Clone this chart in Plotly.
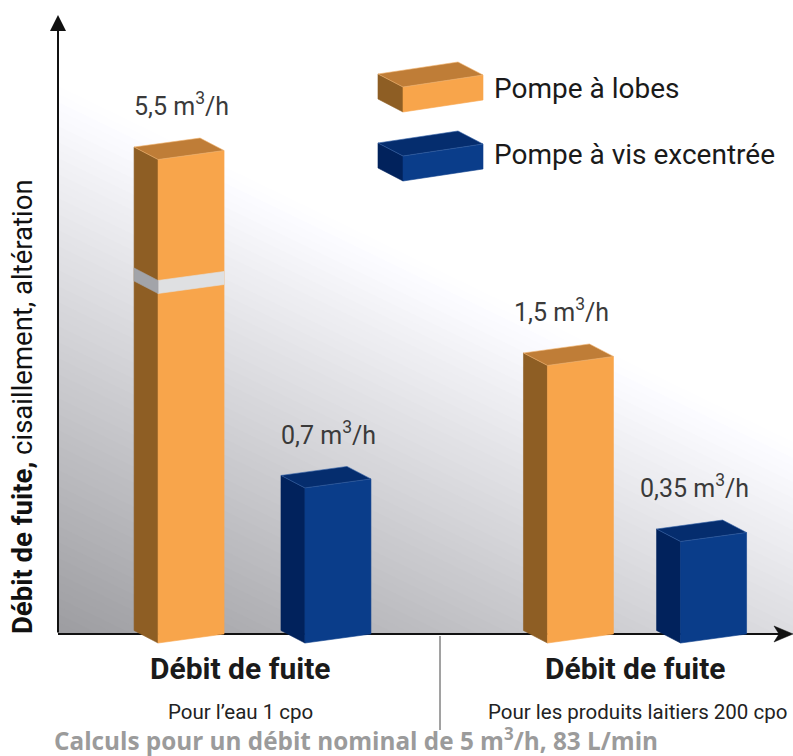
import plotly.graph_objects as go

W, H = 793, 756

# ---------------- data ----------------
categories = ["Débit de fuite", "Débit de fuite"]
category_notes = ["Pour l’eau 1 cpo", "Pour les produits laitiers 200 cpo"]
series_names = ["Pompe à lobes", "Pompe à vis excentrée"]
lobes_values = [5.5, 1.5]
vis_values = [0.7, 0.35]
lobes_labels = ["5,5 m<sup>3</sup>/h", "1,5 m<sup>3</sup>/h"]
vis_labels = ["0,7 m<sup>3</sup>/h", "0,35 m<sup>3</sup>/h"]
y_title = "<b>Débit de fuite,</b> cisaillement, altération"
footnote = "<b>Calculs pour un débit nominal de 5 m<sup>3</sup>/h, 83 L/min</b>"

# ---------------- layout constants ----------------
X_UNIT, X_ORIGIN = 382.5, 264.5      # px per category, px of category 0
Y_UNIT, Y_ORIGIN = 153.1, 586.1      # px per m3/h, px of value 0
HALF_GAP = [0.192, 0.174]
LABEL_SHIFT = [-0.025, -0.05]
BAR_W = 0.1725
DX, DY = -0.0627, 0.0816             # depth of the 3D box
SKEW = 0.0588                        # perspective tilt of the front face
FLOOR = -0.313                       # axis baseline value
BREAK_FROM, BREAK_TO, BAND = 1.97, 4.71, 0.085

PAL = {
    "lobes": dict(front="#F8A54B", side="#8E5E24", top="#BF7D37", edge="#F2B46E"),
    "vis": dict(front="#0A3D8A", side="#01225C", top="#052D6E", edge="#3563A8"),
}
BAND_FRONT, BAND_SIDE = "#DFE0E2", "#A2A4A9"


def disp(v):
    if v <= BREAK_FROM:
        return v
    if v >= BREAK_TO:
        return BREAK_FROM + BAND + (v - BREAK_TO)
    return BREAK_FROM + BAND * (v - BREAK_FROM) / (BREAK_TO - BREAK_FROM)


def pxx(p):  # pixel -> data x (main axes)
    return (p - X_ORIGIN) / X_UNIT


def ppx(x, y):  # pixel -> paper
    return x / W, 1 - y / H


fig = go.Figure()

# ---------------- background gradient (clipped to subplot xy) ----------------
def yline(x):
    return 86 + (x - 58) * (442 - 86) / 735.0

step = 8
d = 0
while d < 600:
    g = max(0, int(round(255 - 0.18 * (d + step / 2))))
    col = f"rgb({g},{g},{min(255, g + 4)})"
    xs = [58, 793, 793, 58, 58]
    ys = [yline(58) + d, yline(793) + d, yline(793) + d + step + 1,
          yline(58) + d + step + 1, yline(58) + d]
    fig.add_trace(go.Scatter(x=xs, y=ys, mode="lines", fill="toself",
                             fillcolor=col, line=dict(width=0),
                             hoverinfo="skip", showlegend=False,
                             xaxis="x", yaxis="y"))
    d += step

# ---------------- x axis line (under bars) ----------------
fig.add_trace(go.Scatter(x=[pxx(58), pxx(784)], y=[FLOOR, FLOOR], mode="lines",
                         line=dict(color="#111111", width=2),
                         hoverinfo="skip", showlegend=False,
                         xaxis="x2", yaxis="y2"))


def add_poly(pts, color, edge):
    xs = [p[0] for p in pts] + [pts[0][0]]
    ys = [p[1] for p in pts] + [pts[0][1]]
    fig.add_trace(go.Scatter(x=xs, y=ys, mode="lines", fill="toself",
                             fillcolor=color, line=dict(color=edge, width=0.6),
                             hoverinfo="skip", showlegend=False,
                             xaxis="x2", yaxis="y2"))


def add_bar(c, v, pal):
    xl, xr = c - BAR_W / 2, c + BAR_W / 2
    T = disp(v)
    side = [(xl, FLOOR - SKEW), (xl, T - SKEW), (xl + DX, T - SKEW + DY), (xl + DX, FLOOR - SKEW + DY)]
    front = [(xl, FLOOR - SKEW), (xr, FLOOR), (xr, T), (xl, T - SKEW)]
    top = [(xl, T - SKEW), (xr, T), (xr + DX, T + DY), (xl + DX, T - SKEW + DY)]
    add_poly(side, pal["side"], pal["side"])
    add_poly(front, pal["front"], pal["front"])
    add_poly(top, pal["top"], pal["edge"])
    if v > BREAK_TO:
        B = BREAK_FROM
        add_poly([(xl, B - SKEW), (xr, B), (xr, B + BAND), (xl, B + BAND - SKEW)], BAND_FRONT, BAND_FRONT)
        add_poly([(xl, B - SKEW), (xl, B + BAND - SKEW), (xl + DX, B + BAND - SKEW + DY),
                  (xl + DX, B - SKEW + DY)], BAND_SIDE, BAND_SIDE)


annotations = []
for i in range(len(categories)):
    for sign, vals, labels, key in ((-1, lobes_values, lobes_labels, "lobes"),
                                    (1, vis_values, vis_labels, "vis")):
        c = i + sign * HALF_GAP[i]
        add_bar(c, vals[i], PAL[key])
        annotations.append(dict(x=c + LABEL_SHIFT[i], y=disp(vals[i]) + 0.30, xref="x2", yref="y2",
                                text=labels[i], showarrow=False, xanchor="center",
                                yanchor="middle",
                                font=dict(family="Roboto", size=25, color="#3a3a3a")))

# ---------------- legend boxes ----------------
shapes = []


def path_px(pts):
    s = ""
    for k, (x, y) in enumerate(pts):
        a, b = ppx(x, y)
        s += ("M" if k == 0 else "L") + f"{a:.5f},{b:.5f} "
    return s + "Z"


def legend_box(xr, yt, pal, w=80, h=25, skew=12, dx=-25, dy=-13):
    tl, tr = (xr - w, yt + skew), (xr, yt)
    br, bl = (xr, yt + h), (xr - w, yt + skew + h)
    side = [bl, tl, (tl[0] + dx, tl[1] + dy), (bl[0] + dx, bl[1] + dy)]
    front = [tl, tr, br, bl]
    top = [tl, tr, (tr[0] + dx, tr[1] + dy), (tl[0] + dx, tl[1] + dy)]
    for pts, col, ln in ((side, pal["side"], pal["side"]), (front, pal["front"], pal["front"]),
                         (top, pal["top"], pal["edge"])):
        shapes.append(dict(type="path", path=path_px(pts), xref="paper", yref="paper",
                           fillcolor=col, line=dict(color=ln, width=0.6), layer="above"))


legend_box(483, 75, PAL["lobes"])
legend_box(483, 144, PAL["vis"])
for name, yy in zip(series_names, [88, 155]):
    a, b = ppx(492, yy)
    annotations.append(dict(x=a, y=b, xref="paper", yref="paper", text=name, showarrow=False,
                            xanchor="left", yanchor="middle",
                            font=dict(family="Roboto", size=28, color="#1a1a1a")))

# ---------------- category labels ----------------
for name, note, cx, nx in zip(categories, category_notes, [240, 635], [240, 637]):
    a, b = ppx(cx, 668)
    annotations.append(dict(x=a, y=b, xref="paper", yref="paper", text=f"<b>{name}</b>",
                            showarrow=False, xanchor="center", yanchor="middle",
                            font=dict(family="Roboto", size=30, color="#1a1a1a")))
    a, b = ppx(nx, 712)
    annotations.append(dict(x=a, y=b, xref="paper", yref="paper", text=note,
                            showarrow=False, xanchor="center", yanchor="middle",
                            font=dict(family="Roboto", size=20.5, color="#222222")))

# divider
a0, b0 = ppx(440, 636)
a1, b1 = ppx(440, 730)
shapes.append(dict(type="line", xref="paper", yref="paper", x0=a0, y0=b0, x1=a1, y1=b1,
                   line=dict(color="#444444", width=1)))

# footnote
a, b = ppx(52, 739)
annotations.append(dict(x=a, y=b, xref="paper", yref="paper", text=footnote, showarrow=False,
                        xanchor="left", yanchor="middle",
                        font=dict(family="Open Sans", size=24.3, color="#9b9b9b")))

# y title
a, b = ppx(22, 407)
annotations.append(dict(x=a, y=b, xref="paper", yref="paper", text=y_title, showarrow=False,
                        textangle=-90, xanchor="center", yanchor="middle",
                        font=dict(family="Roboto", size=27.5, color="#111111")))

# axis arrows
a, b = ppx(58, 15)
annotations.append(dict(x=a, y=b, xref="paper", yref="paper", text="", showarrow=True,
                        ax=0, ay=619, arrowhead=2, arrowsize=1.6, arrowwidth=2,
                        arrowcolor="#111111", standoff=0))
shapes.append(dict(type="path", xref="paper", yref="paper", layer="above",
                   path=path_px([(793, 634), (774, 626), (779, 634), (774, 642)]),
                   fillcolor="#111111", line=dict(color="#111111", width=0.5)))

fig.update_layout(
    width=W, height=H, autosize=False,
    margin=dict(l=0, r=0, t=0, b=0),
    paper_bgcolor="white", plot_bgcolor="rgba(0,0,0,0)",
    showlegend=False,
    xaxis=dict(domain=[58 / W, 1], range=[58, 793], visible=False, fixedrange=True),
    yaxis=dict(domain=[(H - 634) / H, (H - 80) / H], range=[634, 80], visible=False,
               fixedrange=True, anchor="x"),
    xaxis2=dict(domain=[0, 1], range=[-X_ORIGIN / X_UNIT, (W - X_ORIGIN) / X_UNIT],
                visible=False, fixedrange=True, anchor="y2"),
    yaxis2=dict(domain=[0, 1], range=[-(H - Y_ORIGIN) / Y_UNIT, Y_ORIGIN / Y_UNIT],
                visible=False, fixedrange=True, anchor="x2"),
    annotations=annotations,
    shapes=shapes,
)

fig.write_html("out.html", config={"displayModeBar": False},
               post_script="document.body.style.margin='0px';document.body.style.overflow='hidden';")
